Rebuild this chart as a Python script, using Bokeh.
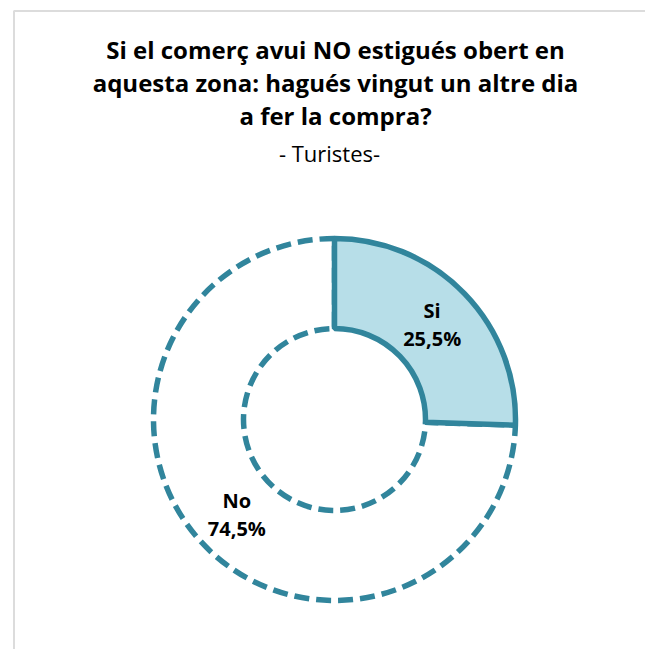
import math
from bokeh.plotting import figure
from bokeh.models import Range1d, BoxAnnotation, ColumnDataSource
from bokeh.core.properties import value
from bokeh.embed import file_html
from bokeh.resources import INLINE

# ---- data ----
categories = ["Si", "No"]
percentages = [25.5, 74.5]
labels_pct = ["25,5%", "74,5%"]
title_lines = ["Si el comerç avui NO estigués obert en",
               "aquesta zona: hagués vingut un altre dia",
               "a fer la compra?"]
subtitle = "- Turistes-"

# ---- layout helpers (page pixel -> data) ----
W, H = 645, 649
def Y(py):
    return H - py

TEAL = "#31859c"
FILL = "#b7dee8"
FONT = "Open Sans"

p = figure(width=W, height=H, output_backend="svg", toolbar_location=None,
           x_range=Range1d(0, W), y_range=Range1d(0, H),
           min_border=0)
p.axis.visible = False
p.grid.visible = False
p.outline_line_color = None
p.background_fill_color = "white"

# chart area border (top/left visible)
p.add_layout(BoxAnnotation(left=13.5, right=900, top=Y(10.5), bottom=-300,
                           fill_alpha=0, line_color="#8c8c8c", line_width=2))

cx, cy = 334, Y(419)
r_in, r_out = 91, 181

# angles: start at 12 o'clock, clockwise
total = sum(percentages)
starts, ends, mids = [], [], []
acc = 0.0
for v in percentages:
    a0 = math.pi / 2 - 2 * math.pi * acc / total
    a1 = math.pi / 2 - 2 * math.pi * (acc + v) / total
    starts.append(a1)
    ends.append(a0)
    mids.append((a0 + a1) / 2)
    acc += v

# "No" slice: dashed outline, no fill
p.annular_wedge(x=cx, y=cy, inner_radius=r_in, outer_radius=r_out,
                start_angle=starts[1], end_angle=ends[1], direction="anticlock",
                fill_color=None, line_color=TEAL, line_width=5.5, line_dash="15 7")
# "Si" slice: filled, solid outline
p.annular_wedge(x=cx, y=cy, inner_radius=r_in, outer_radius=r_out,
                start_angle=starts[0], end_angle=ends[0], direction="anticlock",
                fill_color=FILL, line_color=TEAL, line_width=5.5)

# slice labels
r_lab = (r_in + r_out) / 2
lx = [cx + r_lab * math.cos(m) for m in mids]
ly = [cy + r_lab * math.sin(m) for m in mids]
src = ColumnDataSource(dict(x=lx, y=ly, cat=categories, pct=labels_pct))
p.text(x="x", y="y", text="cat", source=src, y_offset=-14,
       text_font=value(FONT), text_font_style="bold", text_font_size="20px",
       text_align="center", text_baseline="middle", text_color="black")
p.text(x="x", y="y", text="pct", source=src, y_offset=14,
       text_font=value(FONT), text_font_style="bold", text_font_size="20px",
       text_align="center", text_baseline="middle", text_color="black")

# title
tsrc = ColumnDataSource(dict(x=[335] * 3, y=[Y(49), Y(82), Y(115)], t=title_lines))
p.text(x="x", y="y", text="t", source=tsrc, text_font=value(FONT),
       text_font_style="bold", text_font_size="24px", text_align="center",
       text_baseline="middle", text_color="black")
p.text(x=[329], y=[Y(152)], text=[subtitle], text_font=value(FONT),
       text_font_size="22px", text_align="center", text_baseline="middle",
       text_color="black")

open("out.html", "w").write(file_html(p, INLINE))
